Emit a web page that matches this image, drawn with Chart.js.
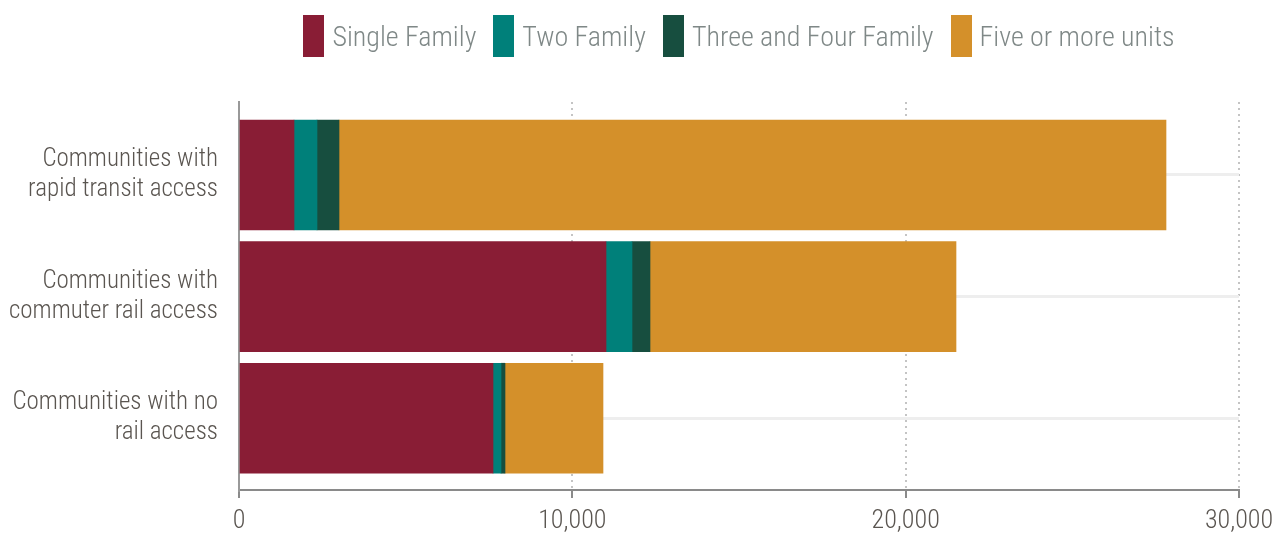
<!DOCTYPE html>
<html>
<head>
<meta charset="utf-8">
<style>
    body { margin: 0; background: #fff; }
    .chart-container { position: relative; width: 1283px; height: 536px; }
    #legend {
        position: absolute; top: 15px; left: 239px; width: 1000px;
        display: flex; justify-content: center; gap: 17px;
        font-family: 'Roboto Condensed', sans-serif; font-weight: 300;
        font-size: 28px; color: #7f8887; white-space: nowrap;
    }
    #legend .item { display: flex; align-items: center; height: 42px; }
    #legend .box { width: 21px; height: 42px; margin-right: 8px; flex: none; }
</style>
</head>
<body>
<div class="chart-container">
    <div id="legend"></div>
    <canvas id="myChart"></canvas>
</div>

<script src="https://cdn.jsdelivr.net/npm/chart.js"></script>

<script>

    const FONT = "'Roboto Condensed', sans-serif";

    // Housing units permitted, by community type
    const categories = [
        ['Communities with', 'rapid transit access'],
        ['Communities with', 'commuter rail access'],
        ['Communities with no', 'rail access']
    ];
    const singleFamily = [1650, 11010, 7620];
    const twoFamily = [690, 780, 240];
    const threeFourFamily = [660, 540, 120];
    const fiveOrMore = [24810, 9180, 2940];
    const xTicks = [0, 10000, 20000, 30000];

    const seriesNames = ['Single Family', 'Two Family', 'Three and Four Family', 'Five or more units'];
    const seriesColors = ['#891d35', '#00807a', '#174e3f', '#d4902a'];

    // y runs on a linear scale so there is some room above the first bar and below the last
    const toPoints = values => values.map((v, i) => ({ x: v, y: i }));

    const datasets = [singleFamily, twoFamily, threeFourFamily, fiveOrMore].map((values, i) => ({
        label: seriesNames[i],
        data: toPoints(values),
        backgroundColor: seriesColors[i],
        borderWidth: 0,
        barThickness: 110
    }));

    const htmlLegend = {
        id: 'htmlLegend',
        afterUpdate(chart) {
            const box = document.getElementById('legend');
            box.innerHTML = '';
            chart.options.plugins.legend.labels.generateLabels(chart).forEach(item => {
                const el = document.createElement('div');
                el.className = 'item';
                const swatch = document.createElement('span');
                swatch.className = 'box';
                swatch.style.background = item.fillStyle;
                el.appendChild(swatch);
                el.appendChild(document.createTextNode(item.text));
                box.appendChild(el);
            });
        }
    };

    const ctx = document.getElementById('myChart').getContext('2d');

    new Chart(ctx, {
        type: 'bar',
        data: { datasets },
        plugins: [htmlLegend],
        options: {
            indexAxis: 'y',
            responsive: true,
            maintainAspectRatio: false,
            animation: false,
            layout: { padding: { top: 102, right: 44, left: 0, bottom: 0 } },
            plugins: {
                legend: { display: false },
                tooltip: { enabled: false }
            },
            scales: {
                x: {
                    stacked: true,
                    min: 0,
                    max: 30000,
                    afterBuildTicks: scale => { scale.ticks = xTicks.map(v => ({ value: v })); },
                    afterFit: scale => { scale.height = 46; },
                    grid: {
                        color: '#c4c4c4',
                        lineWidth: 2,
                        tickLength: 8,
                        tickColor: '#8a8a8a',
                        tickWidth: 2
                    },
                    border: { color: '#8a8a8a', width: 2, dash: [2, 4] },
                    ticks: {
                        padding: 8,
                        color: '#5a5550',
                        font: { family: FONT, weight: 300, size: 26 },
                        callback: value => value.toLocaleString('en-US')
                    }
                },
                y: {
                    type: 'linear',
                    stacked: true,
                    reverse: true,
                    offset: false,
                    min: -0.6,
                    max: 2.59,
                    afterFit: scale => {
                        scale.width = 239;
                        // labels sit well inside the plot, no extra room needed above or below
                        scale.paddingTop = 0;
                        scale.paddingBottom = 0;
                    },
                    grid: {
                        offset: false,
                        color: '#eeeeee',
                        lineWidth: 3,
                        drawTicks: false
                    },
                    border: { color: '#999999', width: 2 },
                    ticks: {
                        stepSize: 1,
                        includeBounds: false,
                        padding: 21,
                        color: '#5a5550',
                        font: { family: FONT, weight: 300, size: 25, lineHeight: 1.2 },
                        callback: value => categories[value] || ''
                    }
                }
            }
        }
    });

</script>
</body>
</html>
